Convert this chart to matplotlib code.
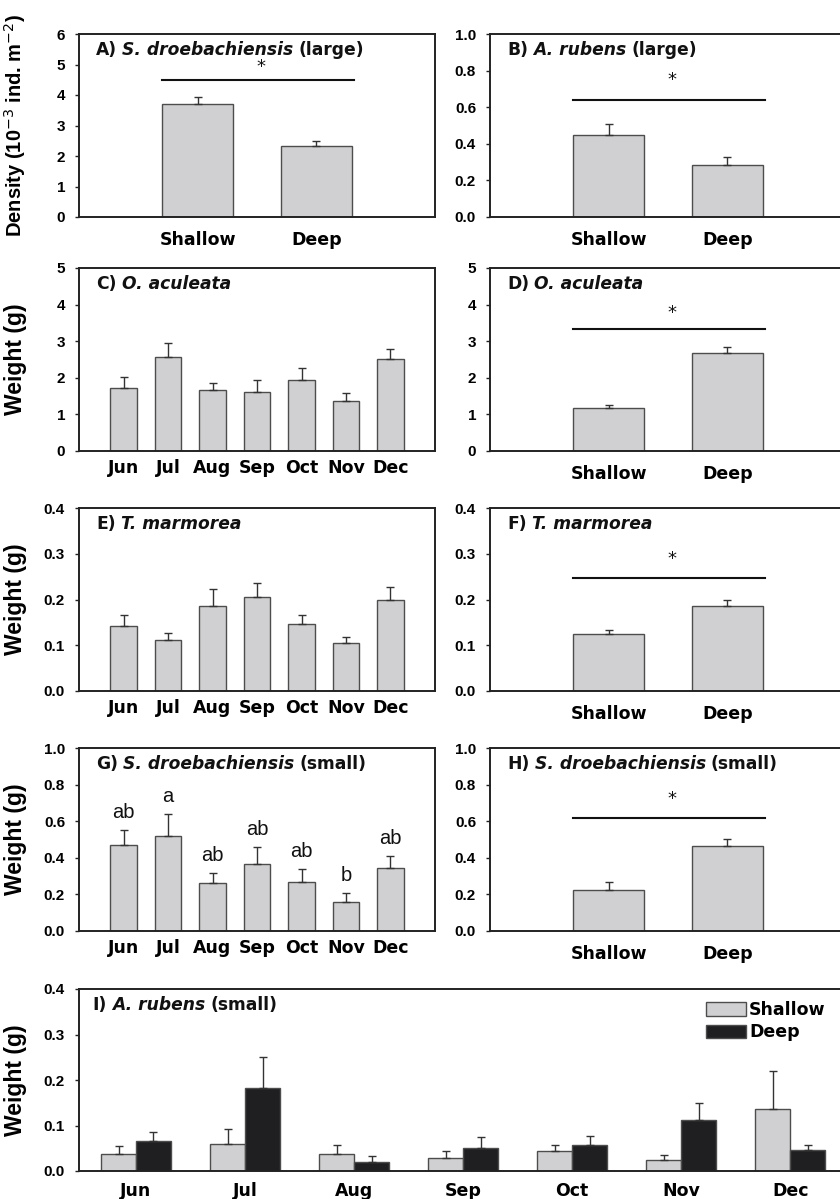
import matplotlib.pyplot as plt
import numpy as np

# values (mean and upper SE)
sites = ['Shallow', 'Deep']
months = ['Jun', 'Jul', 'Aug', 'Sep', 'Oct', 'Nov', 'Dec']

a_mean = [3.70, 2.33]
a_se = [0.22, 0.15]
b_mean = [0.45, 0.285]
b_se = [0.06, 0.045]
c_mean = [1.73, 2.56, 1.67, 1.62, 1.94, 1.36, 2.50]
c_se = [0.29, 0.38, 0.19, 0.31, 0.34, 0.22, 0.30]
d_mean = [1.17, 2.67]
d_se = [0.10, 0.17]
e_mean = [0.143, 0.111, 0.185, 0.205, 0.147, 0.104, 0.200]
e_se = [0.023, 0.016, 0.038, 0.031, 0.020, 0.013, 0.027]
f_mean = [0.125, 0.185]
f_se = [0.008, 0.015]
g_mean = [0.47, 0.52, 0.26, 0.365, 0.27, 0.158, 0.345]
g_se = [0.08, 0.12, 0.056, 0.095, 0.07, 0.05, 0.065]
g_letters = ['ab', 'a', 'ab', 'ab', 'ab', 'b', 'ab']
h_mean = [0.226, 0.463]
h_se = [0.042, 0.042]
i_shallow = [0.037, 0.060, 0.037, 0.029, 0.045, 0.024, 0.136]
i_shallow_se = [0.017, 0.033, 0.021, 0.014, 0.013, 0.012, 0.083]
i_deep = [0.065, 0.183, 0.020, 0.051, 0.057, 0.113, 0.046]
i_deep_se = [0.020, 0.067, 0.013, 0.024, 0.020, 0.037, 0.012]

GREY = '#d0d0d2'
BLACK = '#1f1f22'
EDGE = '#4d4d4d'
AX = '#222222'
YFONT = 'Liberation Sans'
XFONT = 'DejaVu Sans'

fig = plt.figure(figsize=(8.4, 11.99), dpi=100)


def add_ax(left, top, w, h):
    # pixel box -> figure fraction
    return fig.add_axes([left / 840, 1 - (top + h) / 1199, w / 840, h / 1199])


def style(ax, ymax, step, fmt, xpad):
    for s in ax.spines.values():
        s.set_linewidth(1.4)
        s.set_color(AX)
    ax.set_ylim(0, ymax)
    ticks = np.arange(0, ymax + step / 2, step)
    ax.set_yticks(ticks)
    ax.set_yticklabels([fmt % t for t in ticks], fontfamily=YFONT, fontweight='bold', fontsize=11)
    ax.tick_params(axis='y', direction='out', length=3, width=1, color=AX, pad=7)
    ax.tick_params(axis='x', length=0, pad=xpad)


def title(ax, letter, species, extra='', x=0.048, y=0.91, fs=12.3):
    t = ax.text(x, y, letter + ')', transform=ax.transAxes, fontsize=fs,
                fontweight='bold', fontfamily=XFONT, va='center', color='#111')
    t = ax.annotate(species, xy=(1, 0), xycoords=t, xytext=(fs * 0.3, 0),
                    textcoords='offset points', va='bottom', fontsize=fs,
                    fontweight='bold', style='italic', fontfamily=XFONT, color='#111')
    if extra:
        ax.annotate(extra, xy=(1, 0), xycoords=t, xytext=(fs * 0.3, 0),
                    textcoords='offset points', va='bottom', fontsize=fs,
                    fontweight='bold', fontfamily=XFONT, color='#111')


def bars(ax, x, mean, se, width, color):
    ax.bar(x, mean, width=width, color=color, edgecolor=EDGE, linewidth=1, zorder=2)
    ax.errorbar(x, mean, yerr=[np.zeros(len(mean)), se], fmt='none', ecolor='#333',
                elinewidth=1, capsize=3, capthick=1, zorder=3)


def two_bar(ax, mean, se, ymax, step, fmt, sig_y, star_y):
    x = np.arange(1, 3)
    bars(ax, x, mean, se, 0.6, GREY)
    ax.set_xlim(0, 3)
    style(ax, ymax, step, fmt, 10)
    ax.set_xticks(x)
    ax.set_xticklabels(sites, fontfamily=XFONT, fontweight='bold', fontsize=12.5)
    ax.plot([0.7, 2.32], [sig_y, sig_y], color='#111', lw=1.5)
    ax.text(1.53, star_y, '*', ha='center', va='center', fontsize=13, color='#111')


def month_bar(ax, mean, se, ymax, step, fmt):
    x = np.arange(len(months))
    bars(ax, x, mean, se, 0.6, GREY)
    ax.set_xlim(-1, 7)
    style(ax, ymax, step, fmt, 6)
    ax.set_xticks(x)
    ax.set_xticklabels(months, fontfamily=XFONT, fontweight='bold', fontsize=12.5)


def ylab(ax, text, xoff, fs=16.5):
    ax.set_ylabel(text, fontfamily=YFONT, fontweight='bold', fontsize=fs)
    ax.yaxis.set_label_coords(xoff, 0.5)


LW, RW, H = 356, 356, 183

# row 1
ax = add_ax(79, 34, LW, H)
two_bar(ax, a_mean, a_se, 6, 1, '%d', 4.5, 4.92)
title(ax, 'A', 'S. droebachiensis', '(large)')
ylab(ax, 'Density (10$^{-3}$ ind. m$^{-2}$)', -0.142, fs=14.5)

ax = add_ax(490, 34, RW, H)
two_bar(ax, b_mean, b_se, 1.0, 0.2, '%.1f', 0.637, 0.75)
title(ax, 'B', 'A. rubens', '(large)')

# row 2
ax = add_ax(79, 268, LW, H)
month_bar(ax, c_mean, c_se, 5, 1, '%d')
title(ax, 'C', 'O. aculeata')
ylab(ax, 'Weight (g)', -0.147)

ax = add_ax(490, 268, RW, H)
two_bar(ax, d_mean, d_se, 5, 1, '%d', 3.32, 3.77)
title(ax, 'D', 'O. aculeata')

# row 3
ax = add_ax(79, 508, LW, H)
month_bar(ax, e_mean, e_se, 0.4, 0.1, '%.1f')
title(ax, 'E', 'T. marmorea')
ylab(ax, 'Weight (g)', -0.147)

ax = add_ax(490, 508, RW, H)
two_bar(ax, f_mean, f_se, 0.4, 0.1, '%.1f', 0.248, 0.288)
title(ax, 'F', 'T. marmorea')

# row 4
ax = add_ax(79, 748, LW, H)
month_bar(ax, g_mean, g_se, 1.0, 0.2, '%.1f')
title(ax, 'G', 'S. droebachiensis', '(small)')
ylab(ax, 'Weight (g)', -0.147)
for xi, (m, s, lab) in enumerate(zip(g_mean, g_se, g_letters)):
    ax.text(xi, m + s + 0.065, lab, ha='center', va='baseline', fontsize=14.5,
            fontfamily=YFONT, color='#111')

ax = add_ax(490, 748, RW, H)
two_bar(ax, h_mean, h_se, 1.0, 0.2, '%.1f', 0.62, 0.72)
title(ax, 'H', 'S. droebachiensis', '(small)')

# row 5
ax = add_ax(79, 989, 768, 182)
x = np.arange(len(months))
bars(ax, x - 0.16, i_shallow, i_shallow_se, 0.32, GREY)
bars(ax, x + 0.16, i_deep, i_deep_se, 0.32, BLACK)
ax.set_xlim(-0.523, 6.52)
style(ax, 0.4, 0.1, '%.1f', 8)
ax.set_xticks(x)
ax.set_xticklabels(months, fontfamily=XFONT, fontweight='bold', fontsize=12.5)
title(ax, 'I', 'A. rubens', '(small)', x=0.018)
ylab(ax, 'Weight (g)', -0.068)
handles = [plt.Rectangle((0, 0), 1, 1, facecolor=GREY, edgecolor=EDGE, lw=1),
           plt.Rectangle((0, 0), 1, 1, facecolor=BLACK, edgecolor=EDGE, lw=1)]
ax.legend(handles, sites, loc='upper right', bbox_to_anchor=(0.988, 1.0), frameon=False,
          prop={'family': XFONT, 'weight': 'bold', 'size': 12.5}, handlelength=2.3,
          handleheight=0.8, handletextpad=0.2, labelspacing=0.25, borderpad=0.2)

fig.savefig('out.png', dpi=100)
